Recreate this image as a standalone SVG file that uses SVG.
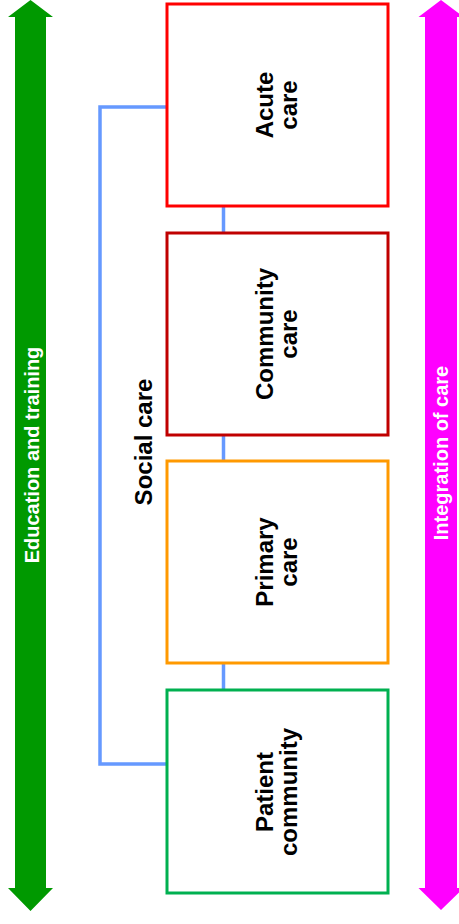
<svg xmlns="http://www.w3.org/2000/svg" width="459" height="924" viewBox="0 0 459 924">
<style>
.box{fill:#FFFFFF;stroke-width:3}
.lbl{font-family:"Liberation Sans",Arial,sans-serif;font-weight:bold;font-size:24px;fill:#000000;text-anchor:middle}
.side{font-family:"Liberation Sans",Arial,sans-serif;font-weight:bold;font-size:20px;fill:#FFFFFF;text-anchor:middle}
.conn{fill:none;stroke:#6699FF;stroke-width:3.5}
</style>
<rect width="459" height="924" fill="#FFFFFF"/>
<g id="connectors">
<polyline class="conn" points="167,107 100,107 100,764 167,764"/>
<line class="conn" x1="223.5" y1="206" x2="223.5" y2="233"/>
<line class="conn" x1="223.5" y1="435" x2="223.5" y2="461"/>
<line class="conn" x1="223.5" y1="663" x2="223.5" y2="690"/>
</g>
<g id="education">
<polygon fill="#009900" points="30.5,0 53,17 46,17 46,888 53,888 30.5,911 8,888 15,888 15,17 8,17"/>
<text class="side" transform="translate(39,455) rotate(-90)">Education and training</text>
</g>
<g id="integration">
<polygon fill="#FF00FF" points="441,0 463.5,17 457,17 457,888 463.5,888 441,910 418.5,888 425,888 425,17 418.5,17"/>
<text class="side" transform="translate(448,453) rotate(-90)">Integration of care</text>
</g>
<g id="social">
<text class="lbl" transform="translate(152,442) rotate(-90)">Social care</text>
</g>
<g id="acute">
<rect class="box" x="167" y="4" width="221" height="202" stroke="#FF0000"/>
<text class="lbl" transform="translate(273,105) rotate(-90)">Acute</text>
<text class="lbl" transform="translate(297,105) rotate(-90)">care</text>
</g>
<g id="community">
<rect class="box" x="167" y="233" width="221" height="202" stroke="#C00000"/>
<text class="lbl" transform="translate(273,334) rotate(-90)">Community</text>
<text class="lbl" transform="translate(297,334) rotate(-90)">care</text>
</g>
<g id="primary">
<rect class="box" x="167" y="461" width="221" height="202" stroke="#FF9900"/>
<text class="lbl" transform="translate(273,562) rotate(-90)">Primary</text>
<text class="lbl" transform="translate(297,562) rotate(-90)">care</text>
</g>
<g id="patient">
<rect class="box" x="167" y="690" width="221" height="203" stroke="#00B050"/>
<text class="lbl" transform="translate(273,792) rotate(-90)">Patient</text>
<text class="lbl" transform="translate(297,792) rotate(-90)">community</text>
</g>
</svg>
